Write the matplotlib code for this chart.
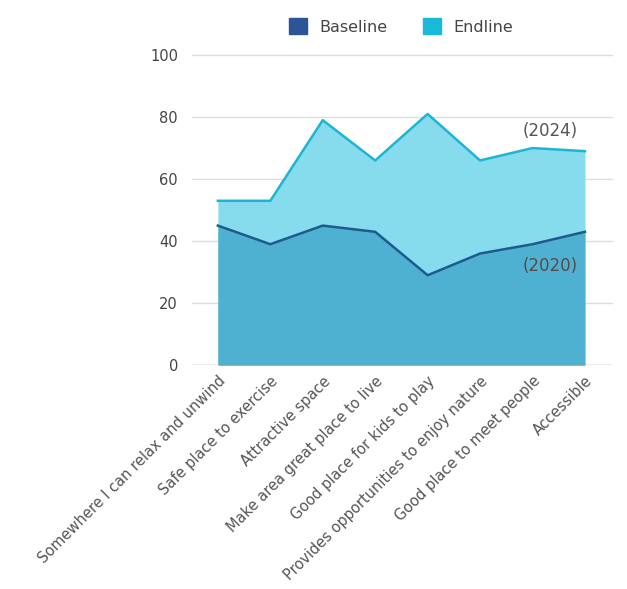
import numpy as np
import matplotlib.pyplot as plt
from matplotlib.patches import Patch

categories = [
    "Somewhere I can relax and unwind",
    "Safe place to exercise",
    "Attractive space",
    "Make area great place to live",
    "Good place for kids to play",
    "Provides opportunities to enjoy nature",
    "Good place to meet people",
    "Accessible",
]
baseline = [45, 39, 45, 43, 29, 36, 39, 43]
endline = [53, 53, 79, 66, 81, 66, 70, 69]

x = np.arange(len(categories))

fig = plt.figure(figsize=(6.27, 5.89), dpi=100)
ax = fig.add_axes([0.306, 0.380, 0.670, 0.5266])

# endline area behind, baseline area in front
ax.fill_between(x, 0, endline, color="#86dcec", lw=0, zorder=2)
ax.plot(x, endline, color="#1cb6d2", lw=1.8, zorder=4)
ax.fill_between(x, 0, baseline, color="#4fb1d2", lw=0, zorder=3)
ax.plot(x, baseline, color="#1e5a8e", lw=1.8, zorder=5)

ax.set_xlim(-0.496, 7.515)
ax.set_ylim(0, 100)
ax.set_yticks(range(0, 101, 20))
for yv in range(20, 101, 20):
    ax.axhline(yv, color="#dddddd", lw=1, zorder=1, clip_on=False)
ax.axhline(0, color="#999999", lw=1, zorder=6)

for s in ax.spines.values():
    s.set_visible(False)
ax.tick_params(axis="both", length=0, colors="#444444")
ax.tick_params(axis="y", labelsize=10.5, pad=10)
ax.set_xticks(x)
ax.set_xticklabels(categories, rotation=45, ha="right", rotation_mode="anchor",
                   fontsize=10.5, color="#555555")
ax.tick_params(axis="x", pad=6)

ax.text(6.33, 75.5, "(2024)", fontsize=12, color="#555555", ha="center", va="center", zorder=7)
ax.text(6.33, 32, "(2020)", fontsize=12, color="#5a4a4a", ha="center", va="center", zorder=7)

handles = [Patch(color="#2b5597", label="Baseline"), Patch(color="#19b9d9", label="Endline")]
fig.legend(handles=handles, loc="center", bbox_to_anchor=(0.64, 0.955), ncol=2,
           frameon=False, fontsize=11.5, handlelength=1.1, handleheight=1.1,
           columnspacing=2.2, labelcolor="#444444")

fig.savefig("out.png", dpi=100)
